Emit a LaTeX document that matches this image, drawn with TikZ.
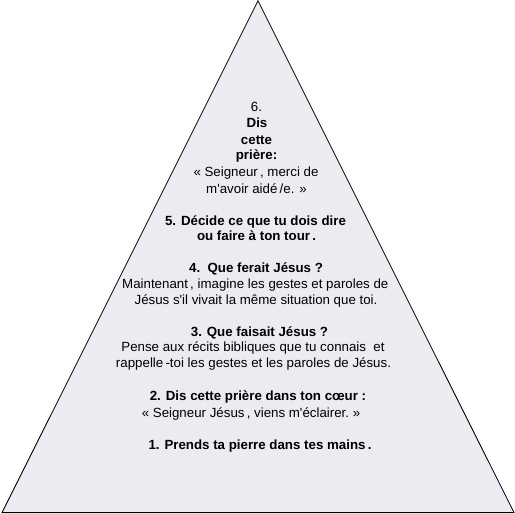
\documentclass[tikz,border=0pt]{standalone}
\usepackage{fontspec}
\setmainfont{Liberation Sans}
\definecolor{pyr}{RGB}{235,235,242}
\begin{document}
\begin{tikzpicture}[x=1bp,y=-1bp,
  txt/.style={anchor=base,inner sep=0pt,font=\fontsize{13.3bp}{16bp}\selectfont},
  bt/.style={anchor=base,inner sep=0pt,font=\fontsize{13.3bp}{16bp}\selectfont\bfseries},
  pyramid/.style={fill=pyr,draw=black,line width=0.8bp}]
\useasboundingbox (0,0) rectangle (515,514);
\coordinate (apex) at (258,0.8);
\coordinate (bl) at (2,512.6);
\coordinate (br) at (514,512.6);
\path[pyramid] (apex) -- (bl) -- (br) -- cycle;
\node[txt] (s6a) at (256.5,111.7) {6.};
\node[bt]  (s6b) at (257,128) {Dis};
\node[bt]  (s6c) at (256.5,144.3) {cette};
\node[bt]  (s6d) at (256.5,160) {prière:};
\node[txt] (s6e) at (256,176.7) {« Seigneur\,, merci de};
\node[txt] (s6f) at (256.5,193.3) {m\textquotesingle avoir aidé\,/e. »};
\node[bt]  (s5a) at (255.5,225) {5. Décide ce que tu dois dire};
\node[bt]  (s5b) at (256.5,240.7) {ou faire à ton tour\,.};
\node[bt]  (s4a) at (256,272.7) {4.\ \ Que ferait Jésus ?};
\node[txt] (s4b) at (255.3,288.7) {Maintenant\,, imagine les gestes et paroles de};
\node[txt] (s4c) at (256,304.3) {Jésus s\textquotesingle il vivait la même situation que toi.};
\node[bt]  (s3a) at (259.5,336.7) {3. Que faisait Jésus ?};
\node[txt] (s3b) at (253,351.7) {Pense aux récits bibliques que tu connais\ \ et};
\node[txt] (s3c) at (253.5,367.7) {rappelle\,-toi les gestes et les paroles de Jésus.};
\node[bt]  (s2a) at (258,400) {2. Dis cette prière dans ton cœur :};
\node[txt] (s2b) at (251,417.3) {« Seigneur Jésus\,, viens m\textquotesingle éclairer.\ »};
\node[bt]  (s1a) at (260,449.3) {1. Prends ta pierre dans tes mains\,.};
\end{tikzpicture}
\end{document}
